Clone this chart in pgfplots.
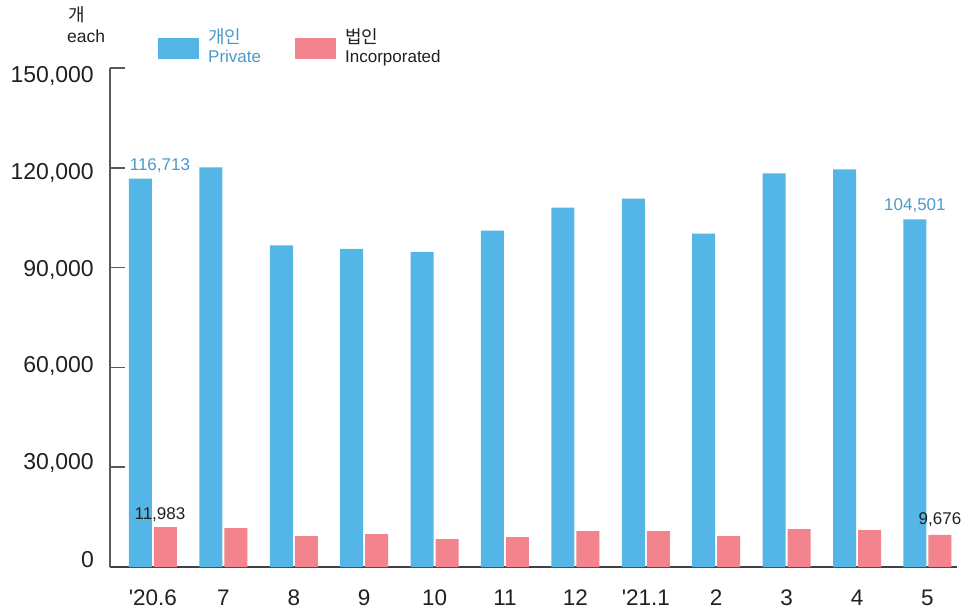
\documentclass[border=0pt]{standalone}
\usepackage{pgfplots}
\pgfplotsset{compat=1.18}
\usepackage{fontspec}
\setmainfont{Liberation Sans}
\newfontfamily\kr{Noto Sans CJK KR}
\definecolor{cblue}{HTML}{54B6E6}
\definecolor{cpink}{HTML}{F3838D}
\definecolor{ltxt}{HTML}{4A9ACB}
\definecolor{dtxt}{HTML}{231F20}
\definecolor{axgray}{HTML}{58595B}
\definecolor{axdark}{HTML}{414042}
\begin{document}
\begin{tikzpicture}
\path[use as bounding box] (-110pt,-43pt) rectangle (858pt,567pt);
\begin{axis}[
  at={(0pt,0pt)}, anchor=south west,
  scale only axis, width=847pt, height=499pt,
  xmin=-0.61, xmax=11.42, ymin=0, ymax=150000,
  axis x line*=bottom, axis y line*=left,
  axis line style={-},
  x axis line style={color=axdark, line width=1.5pt},
  y axis line style={color=axgray, line width=1.5pt},
  xtick={0,...,11},
  xticklabels={{\textquotesingle20.6},7,8,9,10,11,12,{\textquotesingle21.1},2,3,4,5},
  xtick style={draw=none},
  ytick={0,30000,60000,90000,120000,150000},
  yticklabels={0,{30,000},{60,000},{90,000},{120,000},{150,000}},
  tick align=inside, major tick length=15pt,
  ytick style={color=axgray, line width=1.5pt},
  scaled y ticks=false,
  yticklabel style={anchor=east, inner sep=0pt, xshift=-16pt, yshift={7pt-3pt*\ticknum}, font=\fontsize{23}{26}\selectfont, color=dtxt},
  xticklabel style={anchor=north, inner sep=0pt, yshift=-7.5pt, font=\fontsize{22.5}{26}\selectfont, color=dtxt},
  ybar, bar width=23pt,
  clip=false,
]
\addplot[fill=cblue, draw=none, bar shift=-12.5pt] coordinates {
 (0,116713) (1,120100) (2,96650) (3,95650) (4,94750) (5,101100)
 (6,108000) (7,110750) (8,100200) (9,118300) (10,119500) (11,104501)};
\addplot[fill=cpink, draw=none, bar shift=12.5pt] coordinates {
 (0,11983) (1,11700) (2,9250) (3,9850) (4,8350) (5,8950)
 (6,10750) (7,10750) (8,9250) (9,11350) (10,11050) (11,9676)};
\node[anchor=base, inner sep=0pt, text=ltxt, font=\fontsize{17}{20}\selectfont, xshift=7pt, yshift=8.7pt] at (axis cs:0,116713) {116,713};
\node[anchor=base, inner sep=0pt, text=dtxt, font=\fontsize{17}{20}\selectfont, xshift=7pt, yshift=7.5pt] at (axis cs:0,11983) {11,983};
\node[anchor=base, inner sep=0pt, text=ltxt, font=\fontsize{17}{20}\selectfont, xshift=-12.5pt, yshift=8.4pt] at (axis cs:11,104501) {104,501};
\node[anchor=base, inner sep=0pt, text=dtxt, font=\fontsize{17}{20}\selectfont, xshift=12.5pt, yshift=10.8pt] at (axis cs:11,9676) {9,676};
\end{axis}
% unit label
\node[anchor=base west, inner sep=0pt, text=dtxt, font=\kr\fontsize{18}{20}\selectfont] at (-42pt,545pt) {개};
\node[anchor=base west, inner sep=0pt, text=dtxt, font=\fontsize{17.5}{20}\selectfont] at (-43pt,524pt) {each};
% legend
\fill[cblue] (48pt,508pt) rectangle (89pt,529pt);
\fill[cpink] (185pt,508pt) rectangle (226pt,529pt);
\node[anchor=base west, inner sep=0pt, text=ltxt, font=\kr\fontsize{18}{20}\selectfont] at (98pt,523pt) {개인};
\node[anchor=base west, inner sep=0pt, text=ltxt, font=\fontsize{17}{20}\selectfont] at (98pt,504pt) {Private};
\node[anchor=base west, inner sep=0pt, text=dtxt, font=\kr\fontsize{18}{20}\selectfont] at (235pt,523pt) {법인};
\node[anchor=base west, inner sep=0pt, text=dtxt, font=\fontsize{17}{20}\selectfont] at (235pt,504pt) {Incorporated};
\end{tikzpicture}
\end{document}
